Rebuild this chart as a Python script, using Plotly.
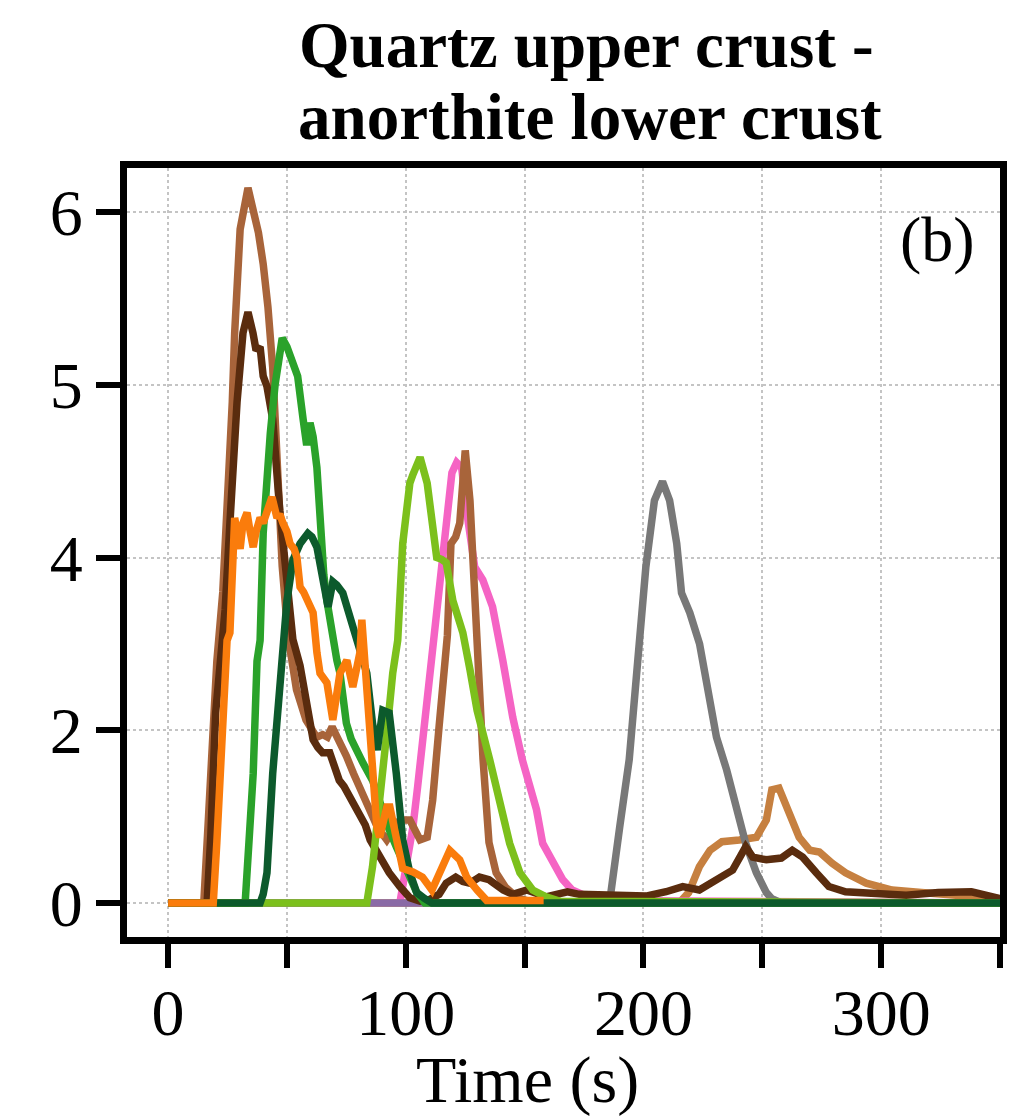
import numpy as np
import plotly.graph_objects as go

# ---- moment-rate curves (time in s, value in axis units) ----
t_purple = [0, 350]
v_purple = [0, 0]

t_tan = [0, 215, 219, 223.5, 228, 233, 240.3, 247.5, 251.7, 254, 257, 261, 265.5,
         270, 274, 279.4, 285, 293.7, 304.6, 317, 331.5, 345, 350]
v_tan = [0, 0, 0.12, 0.42, 0.61, 0.71, 0.73, 0.76, 0.96, 1.31, 1.33, 1.08, 0.76,
         0.61, 0.59, 0.46, 0.35, 0.23, 0.15, 0.12, 0.09, 0.07, 0.05]

t_pink = [97.5, 100, 103, 105, 107, 109, 111, 113.6, 116.5, 119.4, 121.4, 123.5, 126,
          129, 132.4, 136.5, 140.8, 145, 149, 152, 155, 157.6, 161.8, 166, 170, 174.4,
          180, 350]
v_pink = [0, 0.4, 0.88, 1.35, 1.85, 2.3, 2.81, 3.5, 4.14, 4.49, 4.55, 4.52, 4.23,
          3.89, 3.74, 3.43, 2.81, 2.15, 1.66, 1.34, 1.08, 0.69, 0.46, 0.27, 0.15, 0.1,
          0.03, 0]

t_gray = [185.7, 188, 190, 194, 198, 201, 204.6, 208, 211, 214, 216, 219.5, 223.6,
          227.7, 230.7, 235, 239, 243, 247.5, 251.7, 254, 258, 350]
v_gray = [0, 0.4, 0.88, 1.66, 2.81, 3.89, 4.33, 4.44, 4.33, 4.08, 3.59, 3.36, 3.0,
          2.31, 1.92, 1.54, 1.08, 0.69, 0.35, 0.12, 0.05, 0, 0]

t_brown = [0, 15, 17, 19, 20.5, 23, 25, 27, 28, 30.3, 33.6, 36, 38, 40, 42, 44, 46, 48,
           50.4, 54, 58, 62.5, 65, 67, 69, 72, 75, 78, 83.5, 88, 92, 95, 97.5, 101.7,
           104, 106, 109, 111.3, 114, 116, 117.5, 119, 121, 122.7, 125, 127, 129, 131,
           132.5, 135, 138, 142, 147, 152, 160, 200, 250, 300, 350]
v_brown = [0, 0, 1.0, 2.3, 2.8, 3.6, 4.3, 4.9, 5.3, 5.9, 6.14, 6.02, 5.88, 5.7, 5.45,
           5.1, 4.6, 3.9, 3.1, 2.47, 2.12, 1.92, 1.95, 1.92, 2.04, 1.89, 1.7, 1.5, 1.16,
           0.88, 0.73, 0.85, 0.96, 0.96, 0.85, 0.73, 0.76, 1.19, 2.04, 2.55, 3.1, 4.08,
           4.12, 4.2, 4.62, 4.33, 3.5, 2.58, 1.66, 0.7, 0.35, 0.18, 0.06, 0.02, 0, 0, 0,
           0, 0]

t_dbrown = [0, 16.4, 18, 20, 22, 24, 26, 28, 29, 31.5, 33.6, 35.7, 37, 38.7, 40, 41.6,
            44, 47, 50, 52.5, 55.5, 58, 61, 63, 65, 68, 70, 72, 74, 76.5, 78.5, 80.7, 83,
            85, 89, 93, 97.5, 101.7, 106, 110, 114, 117, 121, 124, 127, 131, 135, 141,
            145, 151, 159, 168, 173, 187, 201, 209.5, 216.5, 223.5, 230.7, 237.5, 243,
            246, 251.7, 258, 262.6, 267, 272.7, 278, 285, 296, 310.5, 324, 338, 347, 350]
v_dbrown = [0, 0, 0.8, 2.2, 2.8, 3.4, 4.2, 4.7, 4.9, 5.3, 5.42, 5.3, 5.2, 5.22, 5.05,
            4.99, 4.8, 4.27, 3.6, 3.05, 2.75, 2.35, 1.89, 1.8, 1.74, 1.74, 1.6, 1.42,
            1.35, 1.23, 1.15, 1.04, 0.9, 0.73, 0.53, 0.35, 0.19, 0.06, 0.02, 0.04, 0.1,
            0.23, 0.3, 0.25, 0.23, 0.3, 0.27, 0.15, 0.1, 0.15, 0.07, 0.13, 0.1, 0.1,
            0.08, 0.13, 0.19, 0.15, 0.27, 0.38, 0.65, 0.53, 0.5, 0.52, 0.61, 0.53, 0.35,
            0.19, 0.13, 0.12, 0.09, 0.12, 0.13, 0.07, 0.05]

t_green = [0, 32.4, 34, 35.8, 37.4, 38.7, 40, 41.5, 43, 45, 48, 50, 52.5, 54.5, 56.8,
           58.3, 59.7, 61, 62.6, 64, 65.5, 66.8, 69, 71, 72.3, 75, 77, 79.4, 82, 86,
           90.3, 93, 96, 100.4, 104.6, 108, 350]
v_green = [0, 0, 0.7, 1.5, 2.8, 3.04, 4.14, 4.45, 4.72, 5.0, 5.27, 5.22, 5.14, 5.05,
           4.8, 4.65, 4.78, 4.7, 4.52, 4.14, 3.8, 3.5, 3.1, 2.81, 2.66, 2.08, 1.9, 1.74,
           1.62, 1.42, 1.04, 0.85, 0.65, 0.35, 0.12, 0, 0]

t_lgreen = [0, 83.6, 86, 88, 90.3, 92.5, 94.5, 96.6, 98.7, 101.7, 103, 106, 109, 111.3,
            113, 115, 117, 119.8, 122, 124, 127, 130, 135.3, 139.5, 143.7, 148, 153.4,
            159, 165, 350]
v_lgreen = [0, 0, 0.42, 0.9, 1.5, 2.1, 2.66, 3.04, 4.08, 4.43, 4.48, 4.58, 4.43, 4.14,
            4.0, 3.98, 3.94, 3.5, 3.3, 3.13, 2.7, 2.23, 1.66, 1.19, 0.69, 0.35, 0.15,
            0.07, 0.02, 0]

t_dgreen = [0, 38.7, 40, 41.6, 44, 46, 48.3, 50, 52.5, 55.5, 58.8, 60.5, 62.6, 65, 67.3,
            69.3, 71, 73.5, 75.5, 77.7, 79.8, 81.5, 83.6, 86, 88, 90.3, 93, 96, 98.7,
            101.7, 104.6, 108, 111, 350]
v_dgreen = [0, 0, 0.1, 0.35, 1.5, 2.2, 3.0, 3.5, 3.97, 4.08, 4.14, 4.12, 4.06, 3.77,
            3.43, 3.72, 3.68, 3.59, 3.4, 3.2, 2.96, 2.85, 2.66, 2.08, 1.77, 2.23, 2.2,
            1.5, 0.73, 0.35, 0.12, 0.05, 0.0, 0]

t_orange = [0, 19, 20.5, 22, 23.5, 24.8, 26, 27, 28, 29, 30.3, 31.5, 33.2, 34.5, 35.8,
            37, 38.7, 40, 41.6, 43.7, 45.8, 47, 48.3, 50, 51.3, 53, 54.2, 55.5, 57, 58.4,
            61, 62.6, 63.9, 66.8, 69.3, 72.3, 75.2, 77.7, 80.7, 81.5, 84, 86.1, 87.8, 89,
            90.5, 92, 93.3, 96.2, 98.7, 103, 107, 111, 115.5, 118.5, 122.7, 125.6, 130,
            134, 145, 158]
v_orange = [0, 0, 0.7, 1.5, 2.3, 3.04, 3.13, 3.7, 4.23, 4.15, 4.05, 4.2, 4.26, 4.15,
            4.06, 4.15, 4.23, 4.2, 4.27, 4.35, 4.23, 4.25, 4.2, 4.15, 4.08, 4.05, 4.0,
            3.66, 3.6, 3.5, 3.36, 2.9, 2.66, 2.55, 2.12, 2.66, 2.81, 2.5, 2.9, 3.28, 2.27,
            1.5, 0.88, 0.76, 0.96, 1.11, 1.11, 0.77, 0.4, 0.36, 0.3, 0.15, 0.42, 0.61,
            0.5, 0.3, 0.15, 0.03, 0.03, 0.03]

y_ticks = [0, 2, 4, 5, 6]
x_ticks = [0, 50, 100, 150, 200, 250, 300, 350]
x_labels = ["0", "", "100", "", "200", "", "300", ""]


def to_axis(v):
    """Piecewise y scale: values up to 4 are compressed by half, above 4 linear."""
    v = np.asarray(v, dtype=float)
    return np.where(v <= 4, v / 2.0, v - 2.0)


# drawing order, bottom to top
series = [
    (t_tan, v_tan, "#c68040"),
    (t_pink, v_pink, "#f564c4"),
    (t_gray, v_gray, "#787878"),
    (t_purple, v_purple, "#8a6aa6"),
    (t_brown, v_brown, "#a8643a"),
    (t_dbrown, v_dbrown, "#5a2c0e"),
    (t_green, v_green, "#2aa22a"),
    (t_lgreen, v_lgreen, "#7cc01c"),
    (t_dgreen, v_dgreen, "#0c5a2c"),
    (t_orange, v_orange, "#fa7c0c"),
]

fig = go.Figure()
for t, v, c in series:
    fig.add_trace(go.Scatter(x=t, y=to_axis(v), mode="lines",
                             line=dict(color=c, width=7.5), hoverinfo="skip"))

FONT = "Liberation Serif, Times New Roman, serif"
L, R, T, B = 127, 24, 168, 183
W, H = 1024, 1120
pw, ph = W - L - R, H - T - B


def px_x(px):
    return (px - L) / pw


def px_y(py):
    return (H - B - py) / ph


axis_style = dict(
    ticks="outside", ticklen=24, tickwidth=6, tickcolor="black",
    showline=True, linewidth=7, linecolor="black", mirror=True,
    showgrid=True, gridcolor="#c4c4c4", griddash="dot", gridwidth=2,
    zeroline=False, tickfont=dict(family=FONT, size=66, color="black"),
)

fig.update_layout(
    width=W, height=H,
    margin=dict(l=L, r=R, t=T, b=B),
    paper_bgcolor="white", plot_bgcolor="white",
    showlegend=False,
    font=dict(family=FONT, size=64, color="black"),
    xaxis=dict(range=[-17.3, 350], tickmode="array", tickvals=x_ticks,
               ticktext=x_labels, ticklabelstandoff=-12, **axis_style),
    yaxis=dict(range=[-0.197, 4.255], tickmode="array",
               tickvals=to_axis(y_ticks).tolist(),
               ticktext=[str(v) for v in y_ticks], **axis_style),
)

annotations = [
    dict(text="<b>Quartz upper crust -</b>", x=px_x(586), y=px_y(45), size=65),
    dict(text="<b>anorthite lower crust</b>", x=px_x(590), y=px_y(117), size=65),
    dict(text="Time (s)", x=px_x(527), y=px_y(1080), size=66),
    dict(text="(b)", x=px_x(937), y=px_y(240), size=64),
]
for a in annotations:
    size = a.pop("size")
    fig.add_annotation(xref="paper", yref="paper", showarrow=False,
                       xanchor="center", yanchor="middle",
                       font=dict(family=FONT, size=size, color="black"), **a)

fig.write_html("out.html")
